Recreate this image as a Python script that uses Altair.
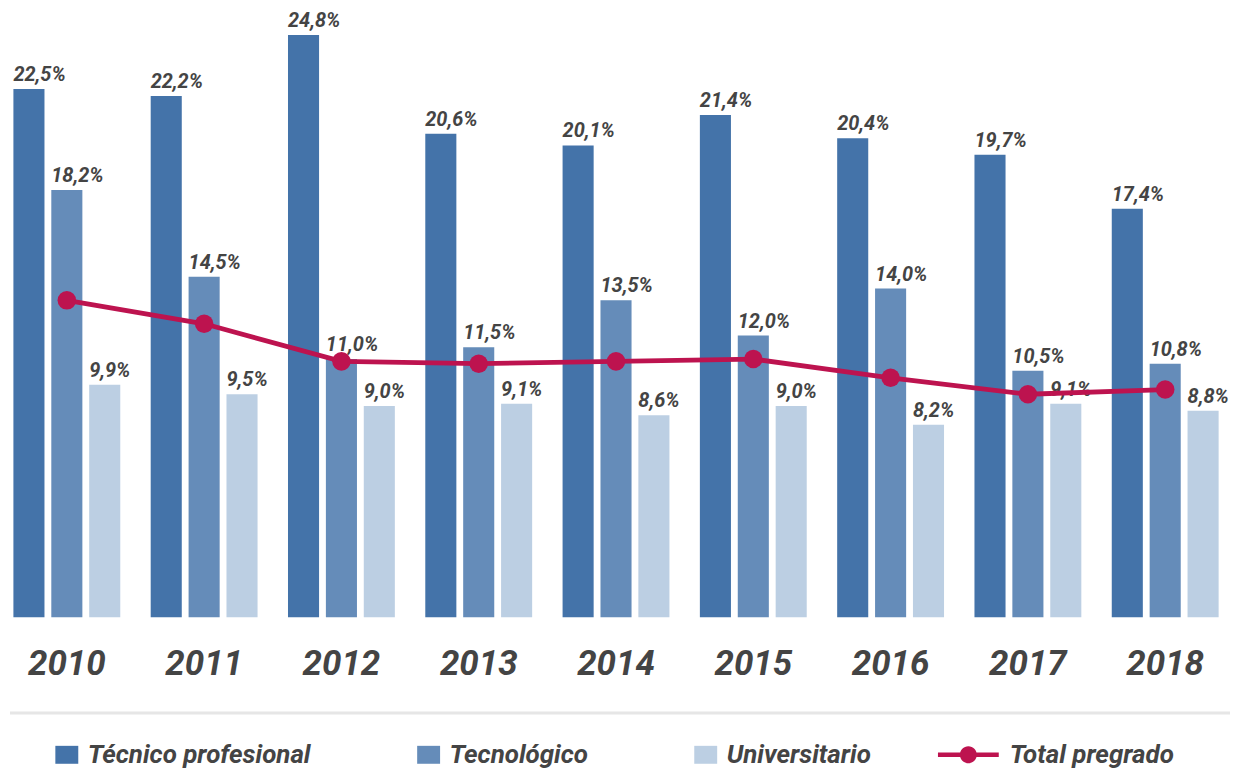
import altair as alt
import pandas as pd

years = ["2010", "2011", "2012", "2013", "2014", "2015", "2016", "2017", "2018"]
series = ["Técnico profesional", "Tecnológico", "Universitario"]
line_name = "Total pregrado"
tecnico = [22.5, 22.2, 24.8, 20.6, 20.1, 21.4, 20.4, 19.7, 17.4]
tecnologico = [18.2, 14.5, 11.0, 11.5, 13.5, 12.0, 14.0, 10.5, 10.8]
universitario = [9.9, 9.5, 9.0, 9.1, 8.6, 9.0, 8.2, 9.1, 8.8]
total = [13.5, 12.5, 10.9, 10.8, 10.9, 11.0, 10.2, 9.5, 9.7]

colors = ["#4473a9", "#658cb9", "#bccfe3", "#bd134f"]
TXT = "#444444"
FONT = "Roboto"

rows = []
for i, y in enumerate(years):
    for s, vals in zip(series, [tecnico, tecnologico, universitario]):
        rows.append({"year": y, "serie": s, "value": vals[i]})
bars_df = pd.DataFrame(rows)
bars_df["label"] = bars_df["value"].map(lambda v: f"{v:.1f}".replace(".", ",") + "%")
line_df = pd.DataFrame({"year": years, "serie": line_name, "value": total})

legend_domain = series + [line_name]
# rectangles carry an invisible move-to so every legend entry has the same left extent
rect_path = "M-5.1,0M-1.15,-0.9H1.15V0.9H-1.15Z"
linedot_path = ("M-5.1,-0.22H1V0.22H-5.1Z "
                "M-2.9,0A0.85,0.85 0 1,1 -1.2,0A0.85,0.85 0 1,1 -2.9,0Z")
shape_expr = f"datum.value === '{line_name}' ? '{linedot_path}' : '{rect_path}'"

color_scale = alt.Scale(domain=legend_domain, range=colors)

x_enc = alt.X("year:N", sort=years,
              scale=alt.Scale(paddingInner=0.172, paddingOuter=0),
              axis=alt.Axis(title=None, domain=False, ticks=False, labelAngle=0,
                            labelFont=FONT, labelFontSize=35, labelFontStyle="italic",
                            labelFontWeight="bold", labelColor=TXT, labelPadding=29))
y_enc = alt.Y("value:Q", scale=alt.Scale(domain=[0, 25.9], nice=False, zero=True), axis=None)
xoff = alt.XOffset("serie:N", sort=series,
                   scale=alt.Scale(paddingInner=0.18, paddingOuter=0.09))

leg = alt.Legend(title=None, orient="none", legendX=44, legendY=735,
                 direction="horizontal", columns=4, symbolSize=400, symbolStrokeWidth=0,
                 symbolType={"expr": shape_expr},
                 labelFont=FONT, labelFontSize=26, labelFontStyle="italic",
                 labelFontWeight="bold", labelColor=TXT, labelOffset=8,
                 columnPadding=67, labelLimit=400)

base_bars = alt.Chart(bars_df)
bars = base_bars.mark_bar().encode(
    x=x_enc, xOffset=xoff, y=y_enc,
    color=alt.Color("serie:N", scale=color_scale, legend=leg),
)
labels = base_bars.mark_text(
    align="left", baseline="alphabetic", dx=-15.6, dy=-8,
    font=FONT, fontSize=20, fontStyle="italic", fontWeight="bold", color=TXT,
).encode(x=x_enc, xOffset=xoff, y=y_enc, text="label:N")

base_line = alt.Chart(line_df)
line = base_line.mark_line(color=colors[3], strokeWidth=4.8).encode(x=x_enc, y=y_enc)
points = base_line.mark_circle(color=colors[3], size=346, opacity=1).encode(x=x_enc, y=y_enc)

sep = alt.Chart(alt.Data(values=[{"a": 1}])).mark_rule(color="#e6e6e6", strokeWidth=3).encode(
    x=alt.value(0), x2=alt.value(1224), y=alt.value(706))

chart = alt.layer(bars, labels, line, points, sep).properties(
    width=1216, height=610, padding=0
).configure(font=FONT).configure_view(strokeWidth=0)

chart.save("out.html", embed_options={"renderer": "svg", "actions": False})
